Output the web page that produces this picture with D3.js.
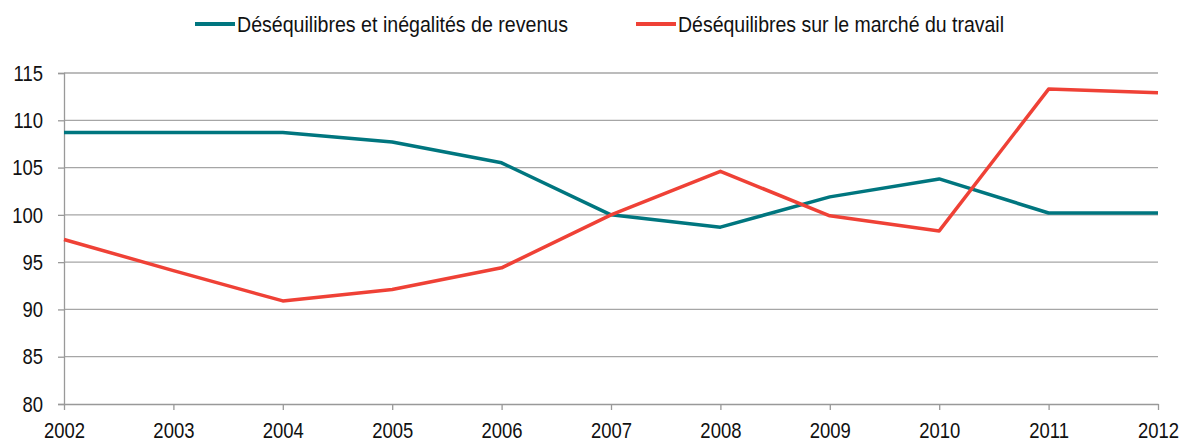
<!DOCTYPE html>
<html>
<head>
<meta charset="utf-8">
<script src="https://cdn.jsdelivr.net/npm/d3@7"></script>
<style>
  body { margin: 0; background: #fff; }
  text { font-family: "Liberation Sans", Arial, sans-serif; fill: #111; }
</style>
</head>
<body>
<script>
var years = [2002, 2003, 2004, 2005, 2006, 2007, 2008, 2009, 2010, 2011, 2012];
var revenus = [108.7, 108.7, 108.7, 107.7, 105.5, 100.0, 98.7, 101.9, 103.8, 100.2, 100.2];
var travail = [97.4, 94.1, 90.9, 92.1, 94.4, 100.0, 104.6, 99.9, 98.3, 113.3, 112.9];
var seriesNames = ["Déséquilibres et inégalités de revenus", "Déséquilibres sur le marché du travail"];
var yTicks = [80, 85, 90, 95, 100, 105, 110, 115];

var margin = { top: 73, right: 23, bottom: 38, left: 64 };
var width = 1181 - margin.left - margin.right;
var height = 442 - margin.top - margin.bottom;
var squeeze = 0.84; // police étroite simulée

var svg = d3.select("body")
    .append("svg")
    .attr("width", 1181)
    .attr("height", 442);

var g = svg.append("g")
    .attr("transform", "translate(" + margin.left + "," + margin.top + ")");

var xScale = d3.scalePoint()
    .domain(years)
    .range([0, width]);

var yScale = d3.scaleLinear()
    .domain([80, 115])
    .range([height, 0]);

// grille
g.selectAll("line.grid")
    .data(yTicks.filter(d => d > 80))
    .enter()
    .append("line")
    .attr("class", "grid")
    .attr("x1", 0)
    .attr("x2", width)
    .attr("y1", d => yScale(d))
    .attr("y2", d => yScale(d))
    .attr("stroke", "#a6a6a6")
    .attr("stroke-width", 1.3);

// Axe Y
var yAxis = g.append("g")
    .call(d3.axisLeft(yScale).tickValues(yTicks).tickSize(6));
yAxis.select(".domain").attr("stroke", "#999").attr("stroke-width", 1.3);
yAxis.selectAll(".tick line").attr("stroke", "#999").attr("stroke-width", 1.3);
yAxis.selectAll("text")
    .style("font-size", "22px")
    .attr("fill", "#111")
    .attr("x", -21 / squeeze)
    .attr("dy", "0.33em")
    .attr("transform", "scale(" + squeeze + ",1)");

// Axe X
var xAxis = g.append("g")
    .attr("transform", "translate(0," + height + ")")
    .call(d3.axisBottom(xScale).tickSize(6).tickSizeOuter(0));
xAxis.select(".domain").attr("stroke", "#999").attr("stroke-width", 1.3);
xAxis.selectAll(".tick line").attr("stroke", "#999").attr("stroke-width", 1.3);
xAxis.selectAll("text")
    .style("font-size", "22px")
    .attr("fill", "#111")
    .attr("y", 34)
    .attr("dy", 0)
    .attr("transform", "scale(" + squeeze + ",1)");

var line = d3.line()
    .x((d, i) => xScale(years[i]))
    .y(d => yScale(d));

var colors = ["#00767f", "#ef4136"];

[revenus, travail].forEach(function(s, k) {
    g.append("path")
        .datum(s)
        .attr("d", line)
        .attr("fill", "none")
        .attr("stroke", colors[k])
        .attr("stroke-width", 3.5)
        .attr("stroke-linejoin", "round");
});

// légende
var legendX = [195, 636];
var legendW = [331, 326];
seriesNames.forEach(function(name, k) {
    var lg = svg.append("g").attr("transform", "translate(" + legendX[k] + ",24)");
    lg.append("line")
        .attr("x1", 0).attr("x2", 40)
        .attr("stroke", colors[k])
        .attr("stroke-width", 4);
    lg.append("text")
        .attr("x", 42)
        .attr("y", 8)
        .style("font-size", "22px")
        .attr("textLength", legendW[k])
        .attr("lengthAdjust", "spacingAndGlyphs")
        .text(name);
});
</script>
</body>
</html>
